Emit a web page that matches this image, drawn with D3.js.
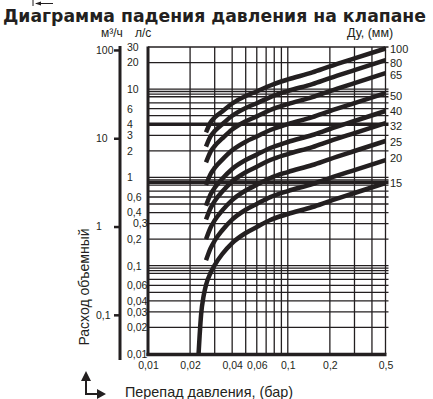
<!DOCTYPE html>
<html>
<head>
<meta charset="utf-8">
<script src="https://cdn.jsdelivr.net/npm/d3@7"></script>
<style>
body { margin: 0; background: #fff; }
svg { display: block; font-family: "Liberation Sans", Arial, sans-serif; }
</style>
</head>
<body>
<div id="chart"></div>
<script>
const width = 433;
const height = 399;
const ink = "#231f20";

// Ду, мм
const sizes = [100, 80, 65, 50, 40, 32, 25, 20, 15];

// перепад давления, бар
const dpPoints = [0.026, 0.028, 0.03, 0.034, 0.04, 0.05, 0.06, 0.075, 0.1, 0.15, 0.2, 0.3, 0.5];
const dp15 = [0.023, 0.0234, 0.024, 0.025, 0.026, 0.028, 0.03, 0.034, 0.04, 0.05, 0.06, 0.075, 0.1, 0.15, 0.2, 0.3, 0.5];

// расход, л/с
const q100 = [3.23, 4.19, 4.77, 5.58, 6.87, 8.36, 9.40, 11.0, 12.86, 15.44, 18.05, 22.24, 28.86];
const q80 = [2.23, 2.91, 3.35, 4.00, 4.99, 6.12, 6.92, 8.13, 9.51, 11.42, 13.35, 16.45, 21.35];
const q65 = [1.48, 1.95, 2.27, 2.76, 3.48, 4.32, 4.91, 5.80, 6.78, 8.13, 9.51, 11.72, 15.21];
const q50 = [0.819, 1.087, 1.282, 1.591, 2.028, 2.54, 2.906, 3.44, 4.02, 4.83, 5.65, 6.96, 9.03];
const q40 = [0.477, 0.639, 0.762, 0.965, 1.246, 1.574, 1.812, 2.154, 2.518, 3.023, 3.535, 4.354, 5.652];
const q32 = [0.333, 0.448, 0.539, 0.691, 0.898, 1.144, 1.322, 1.574, 1.84, 2.209, 2.584, 3.183, 4.131];
const q25 = [0.199, 0.269, 0.326, 0.423, 0.554, 0.711, 0.824, 0.985, 1.151, 1.382, 1.616, 1.991, 2.584];
const q20 = [0.115, 0.157, 0.192, 0.252, 0.333, 0.43, 0.501, 0.599, 0.701, 0.841, 0.984, 1.212, 1.573];
const q15 = [0.01, 0.016, 0.0284, 0.0454, 0.0605, 0.0827, 0.1018, 0.1357, 0.1807, 0.2346, 0.2743, 0.3293, 0.385, 0.4622, 0.5405, 0.6658, 0.8642];

// оси и сетка
const xTicks = [0.01, 0.02, 0.04, 0.06, 0.1, 0.2, 0.5];
const xTickLabels = ["0,01", "0,02", "0,04", "0,06", "0,1", "0,2", "0,5"];
const xGrid = [0.02, 0.03, 0.04, 0.05, 0.06, 0.07, 0.08, 0.09, 0.1, 0.2, 0.3, 0.4, 0.5];
const lsTicks = [30, 20, 10, 6, 4, 3, 2, 1, 0.6, 0.4, 0.3, 0.2, 0.1, 0.06, 0.04, 0.03, 0.02, 0.01];
const lsTickLabels = ["30", "20", "10", "6", "4", "3", "2", "1", "0,6", "0,4", "0,3", "0,2", "0,1", "0,06", "0,04", "0,03", "0,02", "0,01"];
const lsGrid = [30, 20, 10, 9.4, 8.8, 8.2, 7, 6, 5, 3, 2, 1, 0.94, 0.82, 0.7, 0.6, 0.5, 0.4, 0.3, 0.2,
    0.1, 0.094, 0.088, 0.082, 0.07, 0.06, 0.05, 0.04, 0.03, 0.02];
const lsGridBold = [4, 0.88];
const m3hTicks = [100, 10, 1, 0.1];
const m3hTickLabels = ["100", "10", "1", "0,1"];

// сдвиг подписей Ду от конца кривой, px
const labelShift = [1, 3, 2, 3, 0, 3, 1, -2, 0];

const curves = [
    {size: 100, dp: dpPoints, q: q100},
    {size: 80, dp: dpPoints, q: q80},
    {size: 65, dp: dpPoints, q: q65},
    {size: 50, dp: dpPoints, q: q50},
    {size: 40, dp: dpPoints, q: q40},
    {size: 32, dp: dpPoints, q: q32},
    {size: 25, dp: dpPoints, q: q25},
    {size: 20, dp: dpPoints, q: q20},
    {size: 15, dp: dp15, q: q15}
];

const x = d3.scaleLog().domain([0.01, 0.5]).range([148, 385.5]);
const y = d3.scaleLog().domain([0.01, 30]).range([354, 47]);
const yM3h = d3.scaleLog().domain([0.036, 108]).range([354, 47]);

const svg = d3.select("#chart")
    .append("svg")
    .attr("width", width)
    .attr("height", height);

// заголовок
svg.append("text")
    .attr("x", 3)
    .attr("y", 22)
    .attr("textLength", 423)
    .attr("lengthAdjust", "spacingAndGlyphs")
    .style("font-family", "'DejaVu Sans', sans-serif")
    .style("font-weight", "bold")
    .style("font-size", "17.5px")
    .attr("fill", ink)
    .text("Диаграмма падения давления на клапане");

// стрелка вверху
svg.append("path")
    .attr("d", "M33,0V6M36,3.5H53")
    .attr("stroke", ink)
    .attr("stroke-width", 1);
svg.append("path")
    .attr("d", "M35,3.5L41,1.5L41,5.5Z")
    .attr("fill", ink);

// сетка
const grid = svg.append("g");
grid.selectAll(".hgrid")
    .data(lsGrid)
    .enter()
    .append("line")
    .attr("x1", x(0.01))
    .attr("x2", x(0.5) + 3)
    .attr("y1", d => y(d))
    .attr("y2", d => y(d))
    .attr("stroke", ink)
    .attr("stroke-width", 1.3);

grid.selectAll(".hbold")
    .data(lsGridBold)
    .enter()
    .append("line")
    .attr("x1", x(0.01))
    .attr("x2", x(0.5) + 3)
    .attr("y1", d => y(d))
    .attr("y2", d => y(d))
    .attr("stroke", ink)
    .attr("stroke-width", 3.5);

grid.selectAll(".vgrid")
    .data(xGrid)
    .enter()
    .append("line")
    .attr("x1", d => x(d))
    .attr("x2", d => x(d))
    .attr("y1", y(30))
    .attr("y2", y(0.01))
    .attr("stroke", ink)
    .attr("stroke-width", 1.3);

// рамка слева и снизу
svg.append("line")
    .attr("x1", x(0.01)).attr("x2", x(0.01))
    .attr("y1", y(30) - 0.5).attr("y2", y(0.01) + 2)
    .attr("stroke", ink).attr("stroke-width", 3);
svg.append("line")
    .attr("x1", x(0.01) - 1.5).attr("x2", x(0.5) + 1)
    .attr("y1", y(0.01) + 0.5).attr("y2", y(0.01) + 0.5)
    .attr("stroke", ink).attr("stroke-width", 3.5);

// кривые
const line = d3.line()
    .x(d => x(d[0]))
    .y(d => y(d[1]))
    .curve(d3.curveMonotoneX);

svg.append("g")
    .selectAll("path")
    .data(curves)
    .enter()
    .append("path")
    .attr("d", d => line(d.dp.map((v, i) => [v, d.q[i]])))
    .attr("fill", "none")
    .attr("stroke", ink)
    .attr("stroke-width", 4.5);

// подписи Ду
svg.append("g")
    .selectAll("text")
    .data(curves)
    .enter()
    .append("text")
    .attr("x", 390)
    .attr("y", (d, i) => y(d.q[d.q.length - 1]) + labelShift[i] + 4)
    .style("font-size", "11px")
    .attr("fill", ink)
    .text(d => d.size);

svg.append("text")
    .attr("x", 347)
    .attr("y", 37)
    .style("font-size", "12.5px")
    .attr("fill", ink)
    .text("Ду, (мм)");

// ось X
const xAxis = svg.append("g")
    .attr("transform", "translate(0," + 369 + ")")
    .call(d3.axisBottom(x)
        .tickValues(xTicks)
        .tickFormat((d, i) => xTickLabels[i])
        .tickSize(0)
        .tickPadding(0));
xAxis.select(".domain").remove();
xAxis.selectAll("text")
    .attr("dy", 0)
    .attr("y", 0)
    .style("font-size", "10.5px")
    .style("font-family", "'Liberation Sans', Arial, sans-serif")
    .attr("fill", ink);

// ось л/с
const lsAxis = svg.append("g")
    .attr("transform", "translate(127,0)")
    .call(d3.axisRight(y)
        .tickValues(lsTicks)
        .tickFormat((d, i) => lsTickLabels[i])
        .tickSize(0)
        .tickPadding(0));
lsAxis.select(".domain").remove();
lsAxis.selectAll("text")
    .attr("x", d => d === 0.3 ? 6 : 0)
    .style("font-size", "10.5px")
    .style("font-family", "'Liberation Sans', Arial, sans-serif")
    .attr("fill", ink);

// ось м3/ч
svg.append("line")
    .attr("x1", 120).attr("x2", 120)
    .attr("y1", 46).attr("y2", 360)
    .attr("stroke", ink).attr("stroke-width", 3);
const m3Axis = svg.append("g")
    .attr("transform", "translate(120,0)")
    .call(d3.axisLeft(yM3h)
        .tickValues(m3hTicks)
        .tickFormat((d, i) => m3hTickLabels[i])
        .tickSize(6)
        .tickPadding(0));
m3Axis.select(".domain").remove();
m3Axis.selectAll("line")
    .attr("stroke", ink)
    .attr("stroke-width", 2.5);
m3Axis.selectAll("text")
    .attr("x", -24)
    .attr("text-anchor", "start")
    .style("font-size", "10.5px")
    .style("font-family", "'Liberation Sans', Arial, sans-serif")
    .attr("fill", ink);

// единицы
svg.append("text")
    .attr("x", 101).attr("y", 37)
    .style("font-size", "12px")
    .attr("fill", ink)
    .text("м³/ч");
svg.append("text")
    .attr("x", 135).attr("y", 37)
    .style("font-size", "12px")
    .attr("fill", ink)
    .text("л/с");

// подписи осей
svg.append("text")
    .attr("transform", "translate(89,287) rotate(-90)")
    .attr("text-anchor", "middle")
    .style("font-size", "14px")
    .attr("fill", ink)
    .text("Расход объемный");

svg.append("text")
    .attr("x", 125).attr("y", 397)
    .style("font-size", "14.4px")
    .attr("fill", ink)
    .text("Перепад давления, (бар)");

// значок осей внизу
svg.append("path")
    .attr("d", "M86,380V394H98")
    .attr("fill", "none")
    .attr("stroke", ink)
    .attr("stroke-width", 2);
svg.append("path")
    .attr("d", "M86,371L81,381L91,381Z M106,394L97,389L97,399Z")
    .attr("fill", ink);
</script>
</body>
</html>
